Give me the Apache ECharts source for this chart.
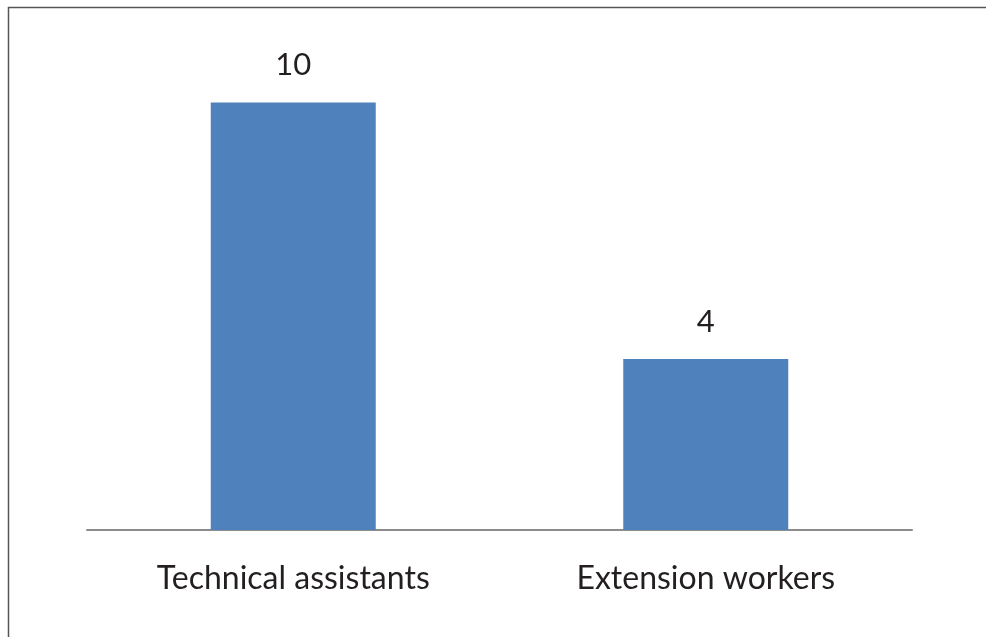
<!DOCTYPE html>
<html>
<head>
<meta charset="utf-8">
<script src="https://cdn.jsdelivr.net/npm/echarts@6/dist/echarts.min.js"></script>
<style>
html,body{margin:0;padding:0;background:#fff;}
#c{width:986px;height:637px;}
</style>
</head>
<body>
<div id="c"></div>
<script>
const categories = ["Technical assistants", "Extension workers"];
const values = [10, 4];

const chart = echarts.init(document.getElementById('c'), null, {renderer: 'canvas'});
chart.setOption({
  animation: false,
  backgroundColor: '#ffffff',
  graphic: [{
    type: 'rect',
    shape: {x: 8.5, y: 7.5, width: 1200, height: 1200},
    style: {fill: 'none', stroke: '#555555', lineWidth: 1.5},
    silent: true
  }],
  grid: {left: 87, right: 74, top: 17, bottom: 107, containLabel: false},
  xAxis: {
    type: 'category',
    data: categories,
    axisLine: {show: true, lineStyle: {color: '#8c8c8c', width: 2}},
    axisTick: {show: false},
    axisLabel: {color: '#231f20', fontFamily: 'Lato', fontSize: 32, margin: 33}
  },
  yAxis: {
    type: 'value', min: 0, max: 12, show: false,
    splitLine: {show: false}
  },
  series: [{
    type: 'bar',
    data: values,
    barWidth: '40%',
    itemStyle: {color: '#4f81bd'},
    label: {show: true, position: 'top', distance: 22, color: '#231f20', fontFamily: 'Lato', fontSize: 31}
  }]
});
</script>
</body>
</html>
